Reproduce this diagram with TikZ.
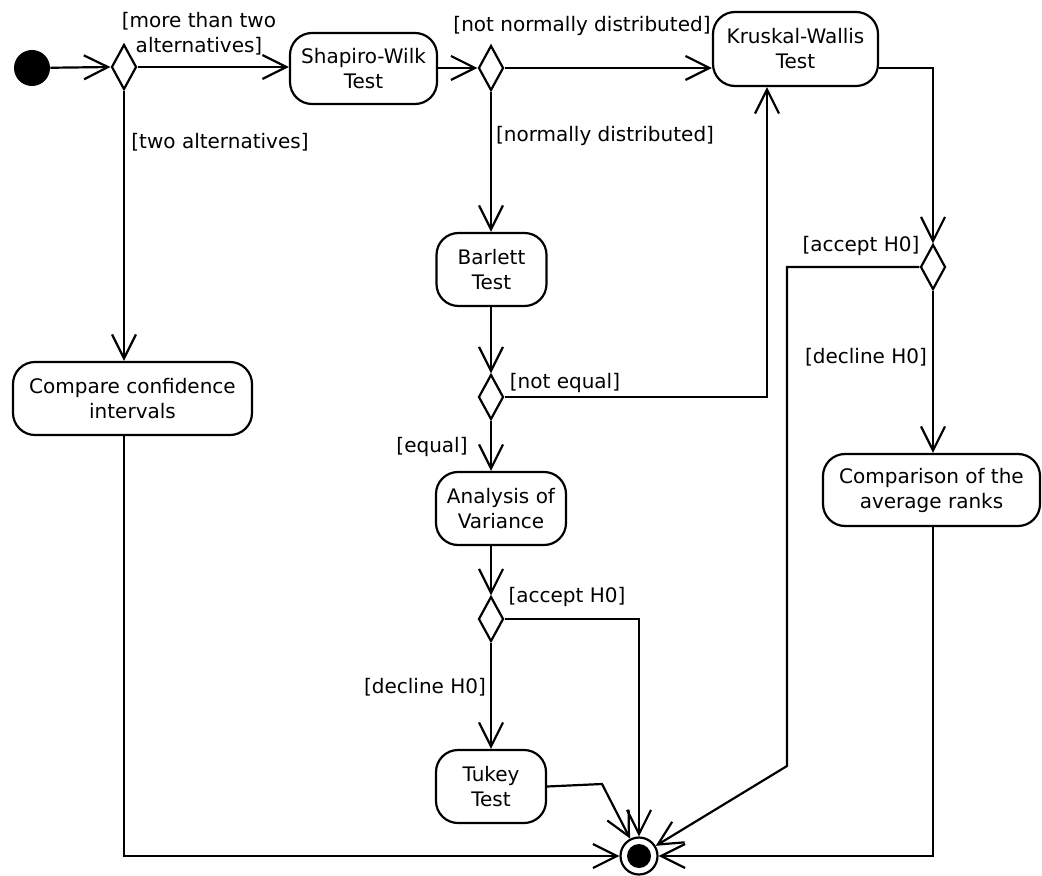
\documentclass[tikz,border=0pt]{standalone}
\usepackage{fontspec}
\setmainfont{DejaVu Sans}
\usetikzlibrary{shapes.geometric,arrows.meta}
\begin{document}
\begin{tikzpicture}[x=0.5pt,y=-0.5pt,
  every node/.style={font=\fontsize{10}{12.5}\selectfont},
  act/.style={draw,line width=1.1pt,rounded corners=11pt,align=center,inner sep=0pt},
  dec/.style={draw,line width=1.1pt,diamond,inner sep=0pt,minimum width=12.5pt,minimum height=22.5pt},
  lbl/.style={inner sep=0pt,align=center},
  flow/.style={line width=1.1pt,-{Straight Barb[length=12pt,width=12pt,line width=1.1pt]}},
  edge/.style={line width=1.1pt}]
\useasboundingbox (0,0) rectangle (1042,876);
% nodes
\node[circle,fill=black,minimum size=18pt,inner sep=0pt] (init) at (32,68) {};
\node[dec] (d1) at (124,67) {};
\node[act,minimum width=73.5pt,minimum height=35.5pt] (shapiro) at (363.5,68.5) {Shapiro-Wilk\\Test};
\node[dec] (d2) at (491,68) {};
\node[act,minimum width=82.5pt,minimum height=37pt] (kruskal) at (795.5,49) {Kruskal-Wallis\\Test};
\node[dec] (d3) at (933,267) {};
\node[act,minimum width=108.5pt,minimum height=36pt] (comp) at (931.5,490) {Comparison of the\\average ranks};
\node[act,minimum width=119.5pt,minimum height=36.5pt] (compare) at (132.5,398.5) {Compare confidence\\intervals};
\node[act,minimum width=55pt,minimum height=36.5pt] (barlett) at (491.5,269.5) {Barlett\\Test};
\node[dec] (d4) at (491,397) {};
\node[act,minimum width=65pt,minimum height=36.5pt] (anova) at (501,508.5) {Analysis of\\Variance};
\node[dec] (d5) at (491,619) {};
\node[act,minimum width=55pt,minimum height=36.5pt] (tukey) at (491,786.5) {Tukey\\Test};
\node[circle,draw,line width=1.1pt,fill=white,minimum size=18.5pt,inner sep=0pt] (final) at (639,856) {};
\fill (final.center) circle[radius=6pt];
% labels
\node[lbl] (l1) at (199,34) {[more than two\\alternatives]};
\node[lbl] (l2) at (220,142) {[two alternatives]};
\node[lbl] (l3) at (582,26) {[not normally distributed]};
\node[lbl] (l4) at (605,136) {[normally distributed]};
\node[lbl] (l5) at (861,246) {[accept H0]};
\node[lbl] (l6) at (866,357) {[decline H0]};
\node[lbl] (l7) at (565,383) {[not equal]};
\node[lbl] (l8) at (432,447) {[equal]};
\node[lbl] (l9) at (567,597) {[accept H0]};
\node[lbl] (l10) at (425,687) {[decline H0]};
% helper coordinates
\coordinate (c3a) at (787,267);
\coordinate (c3b) at (787,766);
\coordinate (c4) at (767,397);
\coordinate (ct) at (602,784);
% connectors
\draw[flow] (init) -- (d1.west);
\draw[flow] (d1.east) -- (d1.east -| shapiro.west);
\draw[flow] (d2.west -| shapiro.east) -- (d2.west);
\draw[flow] (d2.east) -- (d2.east -| kruskal.west);
\draw[flow] (d2.east -| kruskal.east) -- (d2.east -| d3) -- (d3.north);
\draw[flow] (d3.west) -- (c3a) -- (c3b) -- (final);
\draw[flow] (d3.south) -- (d3.south |- comp.north);
\draw[flow] (d3 |- comp.south) -- (d3 |- final) -- (final.east);
\draw[flow] (d1.south) -- (d1 |- compare.north);
\draw[flow] (d1 |- compare.south) -- (d1 |- final) -- (final.west);
\draw[flow] (d2.south) -- (d2 |- barlett.north);
\draw[flow] (d4 |- barlett.south) -- (d4.north);
\draw[flow] (d4.east) -- (c4) -- (c4 |- kruskal.south);
\draw[flow] (d4.south) -- (d4 |- anova.north);
\draw[flow] (d4 |- anova.south) -- (d5.north);
\draw[flow] (d5.east) -- (final |- d5) -- (final.north);
\draw[flow] (d5.south) -- (d5 |- tukey.north);
\draw[flow] (tukey.east) -- (ct) -- (final);
\end{tikzpicture}
\end{document}
